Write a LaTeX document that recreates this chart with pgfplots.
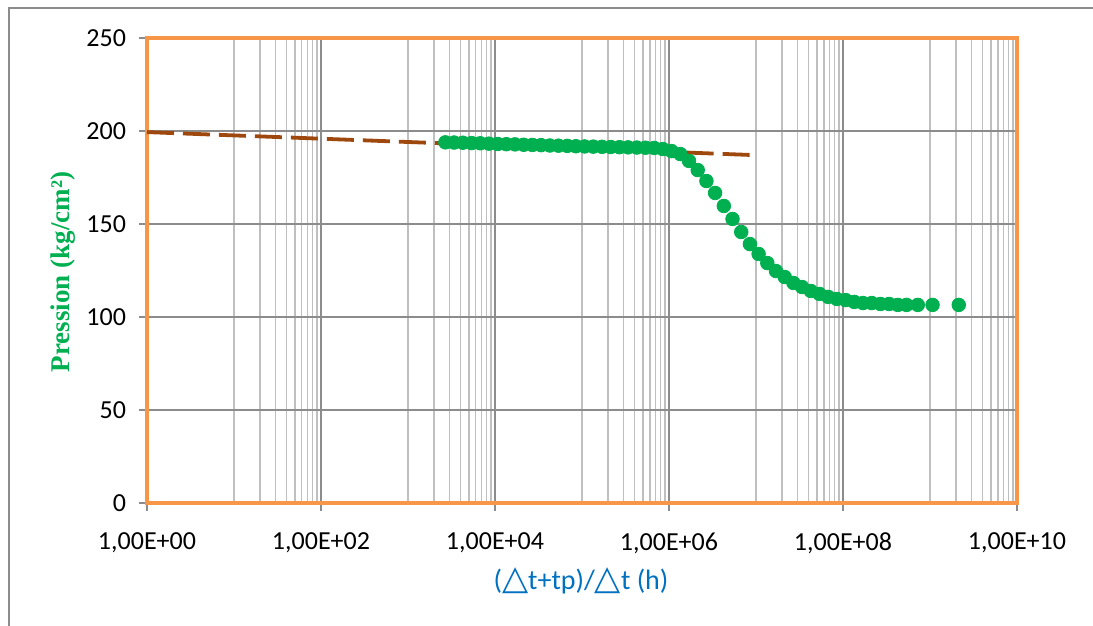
\documentclass[border=0pt]{standalone}
\usepackage{fontspec}
\setmainfont{Carlito}
\newfontfamily\dejavu{DejaVu Sans}
\newfontfamily\tnr{Liberation Serif}
\usepackage{pgfplots}
\pgfplotsset{compat=1.18}
\definecolor{frameorange}{RGB}{247,150,70}
\definecolor{ptgreen}{RGB}{0,176,80}
\definecolor{lnbrown}{RGB}{158,72,14}
\definecolor{lblblue}{RGB}{0,112,192}
\newcommand{\tri}{{\dejavu\fontsize{17}{19}\selectfont △}}
\begin{document}
\begin{tikzpicture}
\useasboundingbox (-73.5pt,-61.5pt) rectangle (473pt,251.5pt);
\draw[draw=black!45, line width=0.8pt] (-69pt,-62pt) -- (-69pt,247.5pt) -- (474pt,247.5pt);
\begin{axis}[
  at={(0,0)}, anchor=south west,
  scale only axis,
  width=435pt, height=232.5pt,
  xmode=log, log basis x=10,
  xmin=1, xmax=1e10, ymin=0, ymax=250,
  xtick={1,1e2,1e4,1e6,1e8,1e10},
  xticklabels={{1,00E+00},{1,00E+02},{1,00E+04},{1,00E+06},{1,00E+08},{1,00E+10}},
  minor xtick={1e1,2e1,3e1,4e1,5e1,6e1,7e1,8e1,9e1,
    1e3,2e3,3e3,4e3,5e3,6e3,7e3,8e3,9e3,
    1e5,2e5,3e5,4e5,5e5,6e5,7e5,8e5,9e5,
    1e7,2e7,3e7,4e7,5e7,6e7,7e7,8e7,9e7,
    1e9,2e9,3e9,4e9,5e9,6e9,7e9,8e9,9e9},
  ytick={0,50,100,150,200,250},
  grid=both,
  major grid style={draw=black!45, line width=0.8pt},
  minor grid style={draw=black!25, line width=0.8pt},
  axis line style={draw=frameorange, line width=1.6pt},
  tick align=outside,
  xtick pos=bottom, ytick pos=left,
  major tick length=4pt, minor tick length=0pt,
  major tick style={draw=black!45, line width=0.8pt},
  /pgf/number format/assume math mode=true,
  tick label style={font=\fontsize{13}{15}\selectfont, black},
  xticklabel style={yshift=-7.5pt},
  yticklabel style={xshift=-3pt},
]
\addplot[lnbrown, line width=1.9pt, dash pattern=on 13.5pt off 4.5pt] coordinates {(1,199.4) (1e7,187.0)};
\addplot[only marks, mark=*, mark size=3.4pt, draw=ptgreen, fill=ptgreen] coordinates {
(2692,193.9) (3388,193.8) (4266,193.7) (5370,193.5) (6761,193.4) (8511,193.2)
(1.0715e4,193.0) (1.349e4,192.9) (1.698e4,192.8) (2.138e4,192.6) (2.692e4,192.5)
(3.388e4,192.4) (4.266e4,192.2) (5.370e4,192.1) (6.761e4,192.0) (8.511e4,191.8)
(1.0715e5,191.7) (1.349e5,191.6) (1.698e5,191.5) (2.138e5,191.4) (2.692e5,191.3)
(3.388e5,191.2) (4.266e5,191.1) (5.370e5,191.0) (6.761e5,190.9) (8.511e5,190.3)
(1.0715e6,189.2) (1.349e6,187.6) (1.698e6,183.9) (2.138e6,179.0) (2.692e6,173.1)
(3.388e6,166.7) (4.266e6,159.7) (5.370e6,152.7) (6.761e6,145.7) (8.511e6,139.2)
(1.0715e7,133.9) (1.349e7,129.0) (1.698e7,124.7) (2.138e7,121.5) (2.692e7,118.3)
(3.388e7,116.1) (4.266e7,114.0) (5.370e7,112.4) (6.761e7,110.8) (8.511e7,109.7)
(1.0715e8,109.1) (1.349e8,108.1) (1.698e8,107.5) (2.138e8,107.5) (2.692e8,107.0)
(3.388e8,107.0) (4.266e8,106.5) (5.370e8,106.5) (7.24e8,106.5) (1.07e9,106.5)
(2.14e9,106.5)
};
\end{axis}
\node[rotate=90, text=ptgreen, font=\tnr\bfseries\fontsize{13.5}{15}\selectfont] at (-42pt,115.5pt) {Pression (kg/cm²)};
\node[text=lblblue, font=\fontsize{14}{16}\selectfont] at (217pt,-39pt) {(\tri t+tp)/\tri t (h)};
\end{tikzpicture}
\end{document}
